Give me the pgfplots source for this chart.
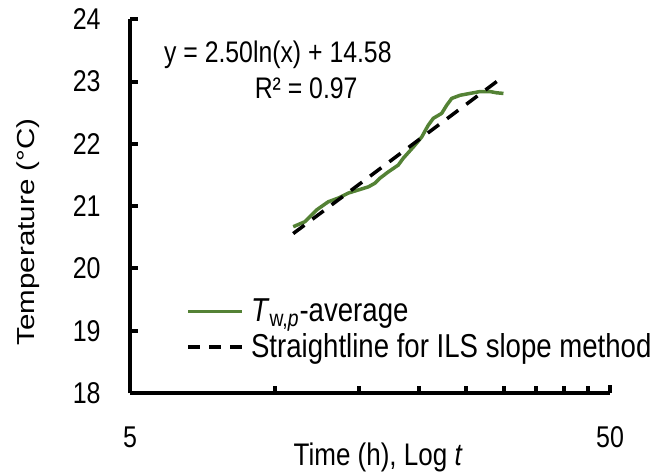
\documentclass[border=0pt]{standalone}
\usepackage{pgfplots}
\pgfplotsset{compat=1.18}
\usepackage{fontspec}
\setmainfont{Liberation Sans}
\usepackage{graphicx}
\definecolor{xlgreen}{RGB}{84,130,53}
\newcommand{\sy}[1]{\scalebox{1}[1.2]{#1}}
\pgfplotstableread{
x y
10.94 20.67
11.57 20.75
12.24 20.94
12.94 21.07
13.58 21.13
14.25 21.21
14.95 21.26
15.69 21.31
16.20 21.37
16.59 21.45
17.26 21.55
18.11 21.66
18.55 21.77
19.47 21.95
20.26 22.11
20.91 22.30
21.42 22.41
22.30 22.49
22.84 22.62
23.40 22.73
24.35 22.78
25.54 22.81
26.80 22.84
28.12 22.84
29.03 22.82
29.99 22.81
}\greendata
\pgfplotstableread{
x y
10.94 20.56
29.50 23.04
}\fitdata
\begin{document}
\begin{tikzpicture}
\useasboundingbox (-65pt,-40pt) rectangle (260.5pt,196.5pt);
\begin{axis}[
  at={(0pt,0pt)}, anchor=south west,
  scale only axis, width=240pt, height=186.85pt,
  xmode=log, xmin=5, xmax=50, ymin=18, ymax=24,
  axis lines=left, axis line style={-, line width=2pt, black},
  clip=false,
  xtick={5,50}, xticklabels={\sy{5},\sy{50}},
  minor xtick={10,15,20,25,30,35,40,45},
  ytick={18,19,20,21,22,23,24},
  yticklabels={\sy{18},\sy{19},\sy{20},\sy{21},\sy{22},\sy{23},\sy{24}},
  tick align=inside, major tick length=4pt, minor tick length=3.5pt,
  tick style={black, line width=2pt},
  tick label style={font=\fontsize{12.5}{15}\selectfont, inner sep=0pt},
  xticklabel style={anchor=north, yshift=-16.5pt},
  yticklabel style={anchor=east, xshift=-14.5pt},
  legend style={at={(rel axis cs:0.117,0.254)}, anchor=north west, draw=none, fill=none,
    inner sep=0pt, font=\fontsize{13.8}{16}\selectfont, row sep=4.5pt,
    nodes={inner sep=0pt}},
  legend cell align=left,
  legend image code/.code={\draw[#1] (0pt,0pt) -- (27pt,0pt);},
  /tikz/every odd column/.append style={column sep=3.5pt},
]
\addplot[xlgreen, line width=1.75pt, line join=round] table[x=x,y=y] {\greendata};
\addlegendentry{\sy{\textit{T}\textsubscript{w,\textit{p}}-average}}
\addplot[black, line width=1.75pt, dash pattern=on 7pt off 5pt,
  legend image post style={dash pattern=on 6pt off 4.5pt}] table[x=x,y=y] {\fitdata};
\addlegendentry{\sy{Straightline for ILS slope method}}
\node[font=\fontsize{12.4}{15}\selectfont] at (rel axis cs:0.308,0.904) {\sy{y = 2.50ln(x) + 14.58}};
\node[font=\fontsize{12.4}{15}\selectfont] at (rel axis cs:0.367,0.816) {\sy{R² = 0.97}};
\node[font=\fontsize{13}{15}\selectfont] at ([yshift=-32pt]rel axis cs:0.517,0) {\sy{Time (h), Log \textit{t}}};
\node[font=\fontsize{12.3}{15}\selectfont, rotate=90] at ([xshift=-51pt]rel axis cs:0,0.431) {\scalebox{1.2}[1]{Temperature (°C)}};
\end{axis}
\end{tikzpicture}
\end{document}
